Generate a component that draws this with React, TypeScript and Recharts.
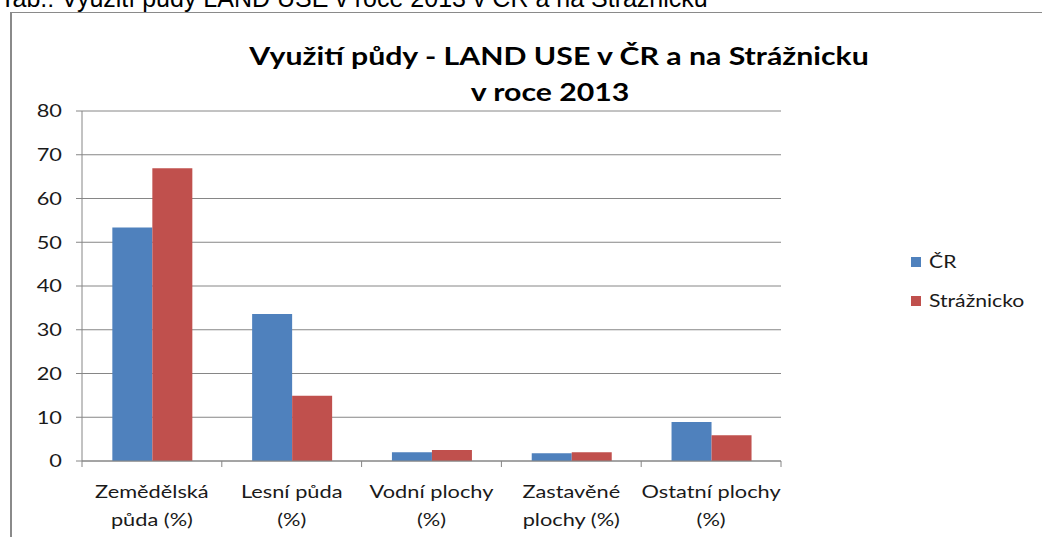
import React from "react";
import { BarChart, Bar, XAxis, YAxis, CartesianGrid } from "recharts";

const categories = [
  "Zemědělská\npůda (%)",
  "Lesní půda\n(%)",
  "Vodní plochy\n(%)",
  "Zastavěné\nplochy (%)",
  "Ostatní plochy\n(%)",
];
const crValues = [53.4, 33.6, 2.0, 1.75, 8.9];
const straznickoValues = [66.9, 14.9, 2.5, 2.0, 5.9];
const yTicks = [0, 10, 20, 30, 40, 50, 60, 70, 80];
const seriesNames = ["ČR", "Strážnicko"];

const data = categories.map((name, i) => ({
  name,
  cr: crValues[i],
  straznicko: straznickoValues[i],
}));

const W = 1042;
const H = 537;
const FONT = "Lato, 'Open Sans', sans-serif";
const AXIS = "#868686";
const BLUE = "#4F81BD";
const RED = "#C0504D";
const SX = 1.21; // the original picture is stretched sideways

const XTick = (props: any) => {
  const { x, y, payload, index } = props;
  const half = payload?.offset ?? (W - 261 - 82) / categories.length / 2;
  const lines = String(payload.value).split("\n");
  return (
    <g>
      <line x1={x - half} y1={y} x2={x - half} y2={y + 6} stroke={AXIS} />
      {index === categories.length - 1 && (
        <line x1={x + half} y1={y} x2={x + half} y2={y + 6} stroke={AXIS} />
      )}
      {lines.map((t, i) => (
        <text
          key={i}
          transform={`translate(${x},${y + 37 + i * 28}) scale(${SX},1)`}
          textAnchor="middle"
          fontFamily={FONT}
          fontSize={18}
          fill="#1a1a1a"
        >
          {t}
        </text>
      ))}
    </g>
  );
};

const YTick = (props: any) => {
  const { x, y, payload } = props;
  return (
    <text
      transform={`translate(${x},${y}) scale(${SX},1)`}
      textAnchor="end"
      dy="0.36em"
      fontFamily={FONT}
      fontSize={18}
      fill="#1a1a1a"
    >
      {payload.value}
    </text>
  );
};

export default function App() {
  return (
    <div style={{ position: "absolute", left: 0, top: 0, width: W, height: H, overflow: "hidden", background: "#fff" }}>
      <svg width={W} height={20} style={{ position: "absolute", left: 0, top: 0 }}>
        <text x={0} y={7} fontFamily="'Liberation Sans', Arial, sans-serif" fontSize={25} fill="#000">
          Tab.: Využití půdy LAND USE v roce 2013 v ČR a na Strážnicku
        </text>
      </svg>
      <div
        style={{
          position: "absolute",
          left: 10,
          top: 12,
          width: W - 10,
          height: H - 12,
          borderLeft: "2px solid #8a8a8a",
          borderTop: "1px solid #8a8a8a",
          boxSizing: "border-box",
        }}
      />
      <div style={{ position: "absolute", left: 0, top: 0 }}>
        <BarChart
          width={W}
          height={H}
          data={data}
          margin={{ top: 111, right: 261, left: 0, bottom: 0 }}
          barCategoryGap="21.7%"
          barGap={0}
        >
          <CartesianGrid vertical={false} stroke={AXIS} />
          <XAxis
            dataKey="name"
            height={76}
            stroke={AXIS}
            tickLine={false}
            tickSize={0}
            tickMargin={0}
            interval={0}
            tick={<XTick />}
          />
          <YAxis
            width={82}
            domain={[0, 80]}
            ticks={yTicks}
            stroke={AXIS}
            tickSize={6}
            tickMargin={14}
            tick={<YTick />}
          />
          <Bar dataKey="cr" name={seriesNames[0]} fill={BLUE} isAnimationActive={false} />
          <Bar dataKey="straznicko" name={seriesNames[1]} fill={RED} isAnimationActive={false} />
        </BarChart>
      </div>
      <svg width={W} height={H} style={{ position: "absolute", left: 0, top: 0, pointerEvents: "none" }}>
        <g fontFamily={FONT} fontWeight={700} fontSize={25} fill="#000" textAnchor="middle">
          <text transform={`translate(559,65) scale(${SX},1)`}>Využití půdy -  LAND USE v ČR a na Strážnicku</text>
          <text transform={`translate(550,101) scale(${SX},1)`}>v roce 2013</text>
        </g>
        {seriesNames.map((n, i) => (
          <g key={n}>
            <rect x={911} y={257 + i * 39} width={10} height={10} fill={i === 0 ? BLUE : RED} />
            <text
              transform={`translate(929,${268 + i * 39}) scale(${SX},1)`}
              fontFamily={FONT}
              fontSize={17.5}
              fill="#1a1a1a"
            >
              {n}
            </text>
          </g>
        ))}
      </svg>
    </div>
  );
}
